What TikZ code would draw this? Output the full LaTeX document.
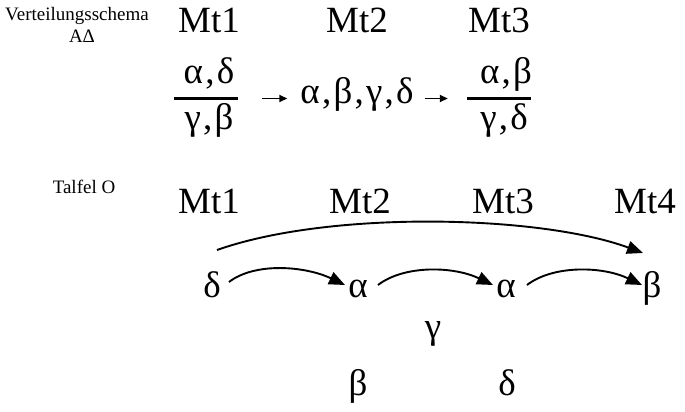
\documentclass[tikz,border=0pt]{standalone}
\usepackage{fontspec}
\setmainfont{Liberation Serif}
\newfontfamily\GreekFam[LetterSpace=6]{Liberation Serif}
\usetikzlibrary{arrows.meta,calc}
\newcommand\SmallFnt{\fontsize{19}{22}\selectfont}
\newcommand\MtFnt{\fontsize{37}{40}\selectfont}
\newcommand\GrFnt{\GreekFam\fontsize{37}{40}\selectfont}
\tikzset{
  smalltxt/.style={font=\SmallFnt, inner sep=0pt, anchor=base},
  mtlabel/.style={font=\MtFnt, inner sep=0pt, anchor=base},
  greek/.style={font=\GrFnt, inner sep=0pt, anchor=base},
  fbar/.style={fill=black, inner sep=0pt, minimum height=2.5pt, minimum width=64pt},
  bigarrow/.style={line width=1.9pt, -{Triangle[length=16pt,width=13pt]}},
  smallarrow/.style={line width=1.8pt, -{Triangle[length=8pt,width=7pt]}},
}
\begin{document}
\begin{tikzpicture}[x=1pt,y=1pt]
\useasboundingbox (0,0) rectangle (685,-412);
% top part
\node[smalltxt] (vs) at (77,-21) {Verteilungsschema};
\node[smalltxt] (ad) at (82,-43) {AΔ};
\node[mtlabel] (t1) at (209,-33) {Mt1};
\node[mtlabel] (t2) at (357,-33) {Mt2};
\node[mtlabel] (t3) at (499,-33) {Mt3};
\node[greek] (n1) at (209,-83) {α,δ};
\node[fbar] (bar1) at (205.5,-98.5) {};
\node[greek] (d1) at (209,-129) {γ,β};
\node[greek] (mid) at (357,-103) {α,β,γ,δ};
\node[greek] (n3) at (506,-83) {α,β};
\node[fbar] (bar3) at (498.5,-98.5) {};
\node[greek] (d3) at (504,-129) {γ,δ};
\draw[smallarrow, shorten <=24.5pt, shorten >=13pt] (bar1.east) -- (bar1.east -| mid.west);
\draw[smallarrow, shorten <=11pt, shorten >=18.5pt] (bar3.west -| mid.east) -- (bar3.west);
% bottom part
\node[smalltxt] (tf) at (84,-193) {Talfel O};
\node[mtlabel] (b1) at (209,-213) {Mt1};
\node[mtlabel] (b2) at (360,-213) {Mt2};
\node[mtlabel] (b3) at (503,-213) {Mt3};
\node[mtlabel] (b4) at (645,-213) {Mt4};
\node[greek] (g1) at (212,-297) {δ};
\node[greek] (g2) at (358,-297) {α};
\node[greek] (g3) at (506,-297) {α};
\node[greek] (g4) at (652,-297) {β};
\node[greek] (gg) at (433,-338) {γ};
\node[greek] (gb) at (358,-395) {β};
\node[greek] (gd) at (507,-395) {δ};
\draw[bigarrow] ($(g1.base)+(17,15)$) .. controls +(26,20) and +(-40,19) .. ($(g2.base)+(-13,12)$);
\draw[bigarrow] ($(g2.base)+(20,12)$) .. controls +(26,20) and +(-40,19) .. ($(g3.base)+(-13,12)$);
\draw[bigarrow] ($(g3.base)+(21,12)$) .. controls +(26,20) and +(-40,19) .. ($(g4.base)+(-10,12)$);
\draw[bigarrow] ($(g1.base)+(5,47)$) .. controls +(113,40) and +(-103,38) .. ($(g4.base)+(-9,44)$);
\end{tikzpicture}
\end{document}
